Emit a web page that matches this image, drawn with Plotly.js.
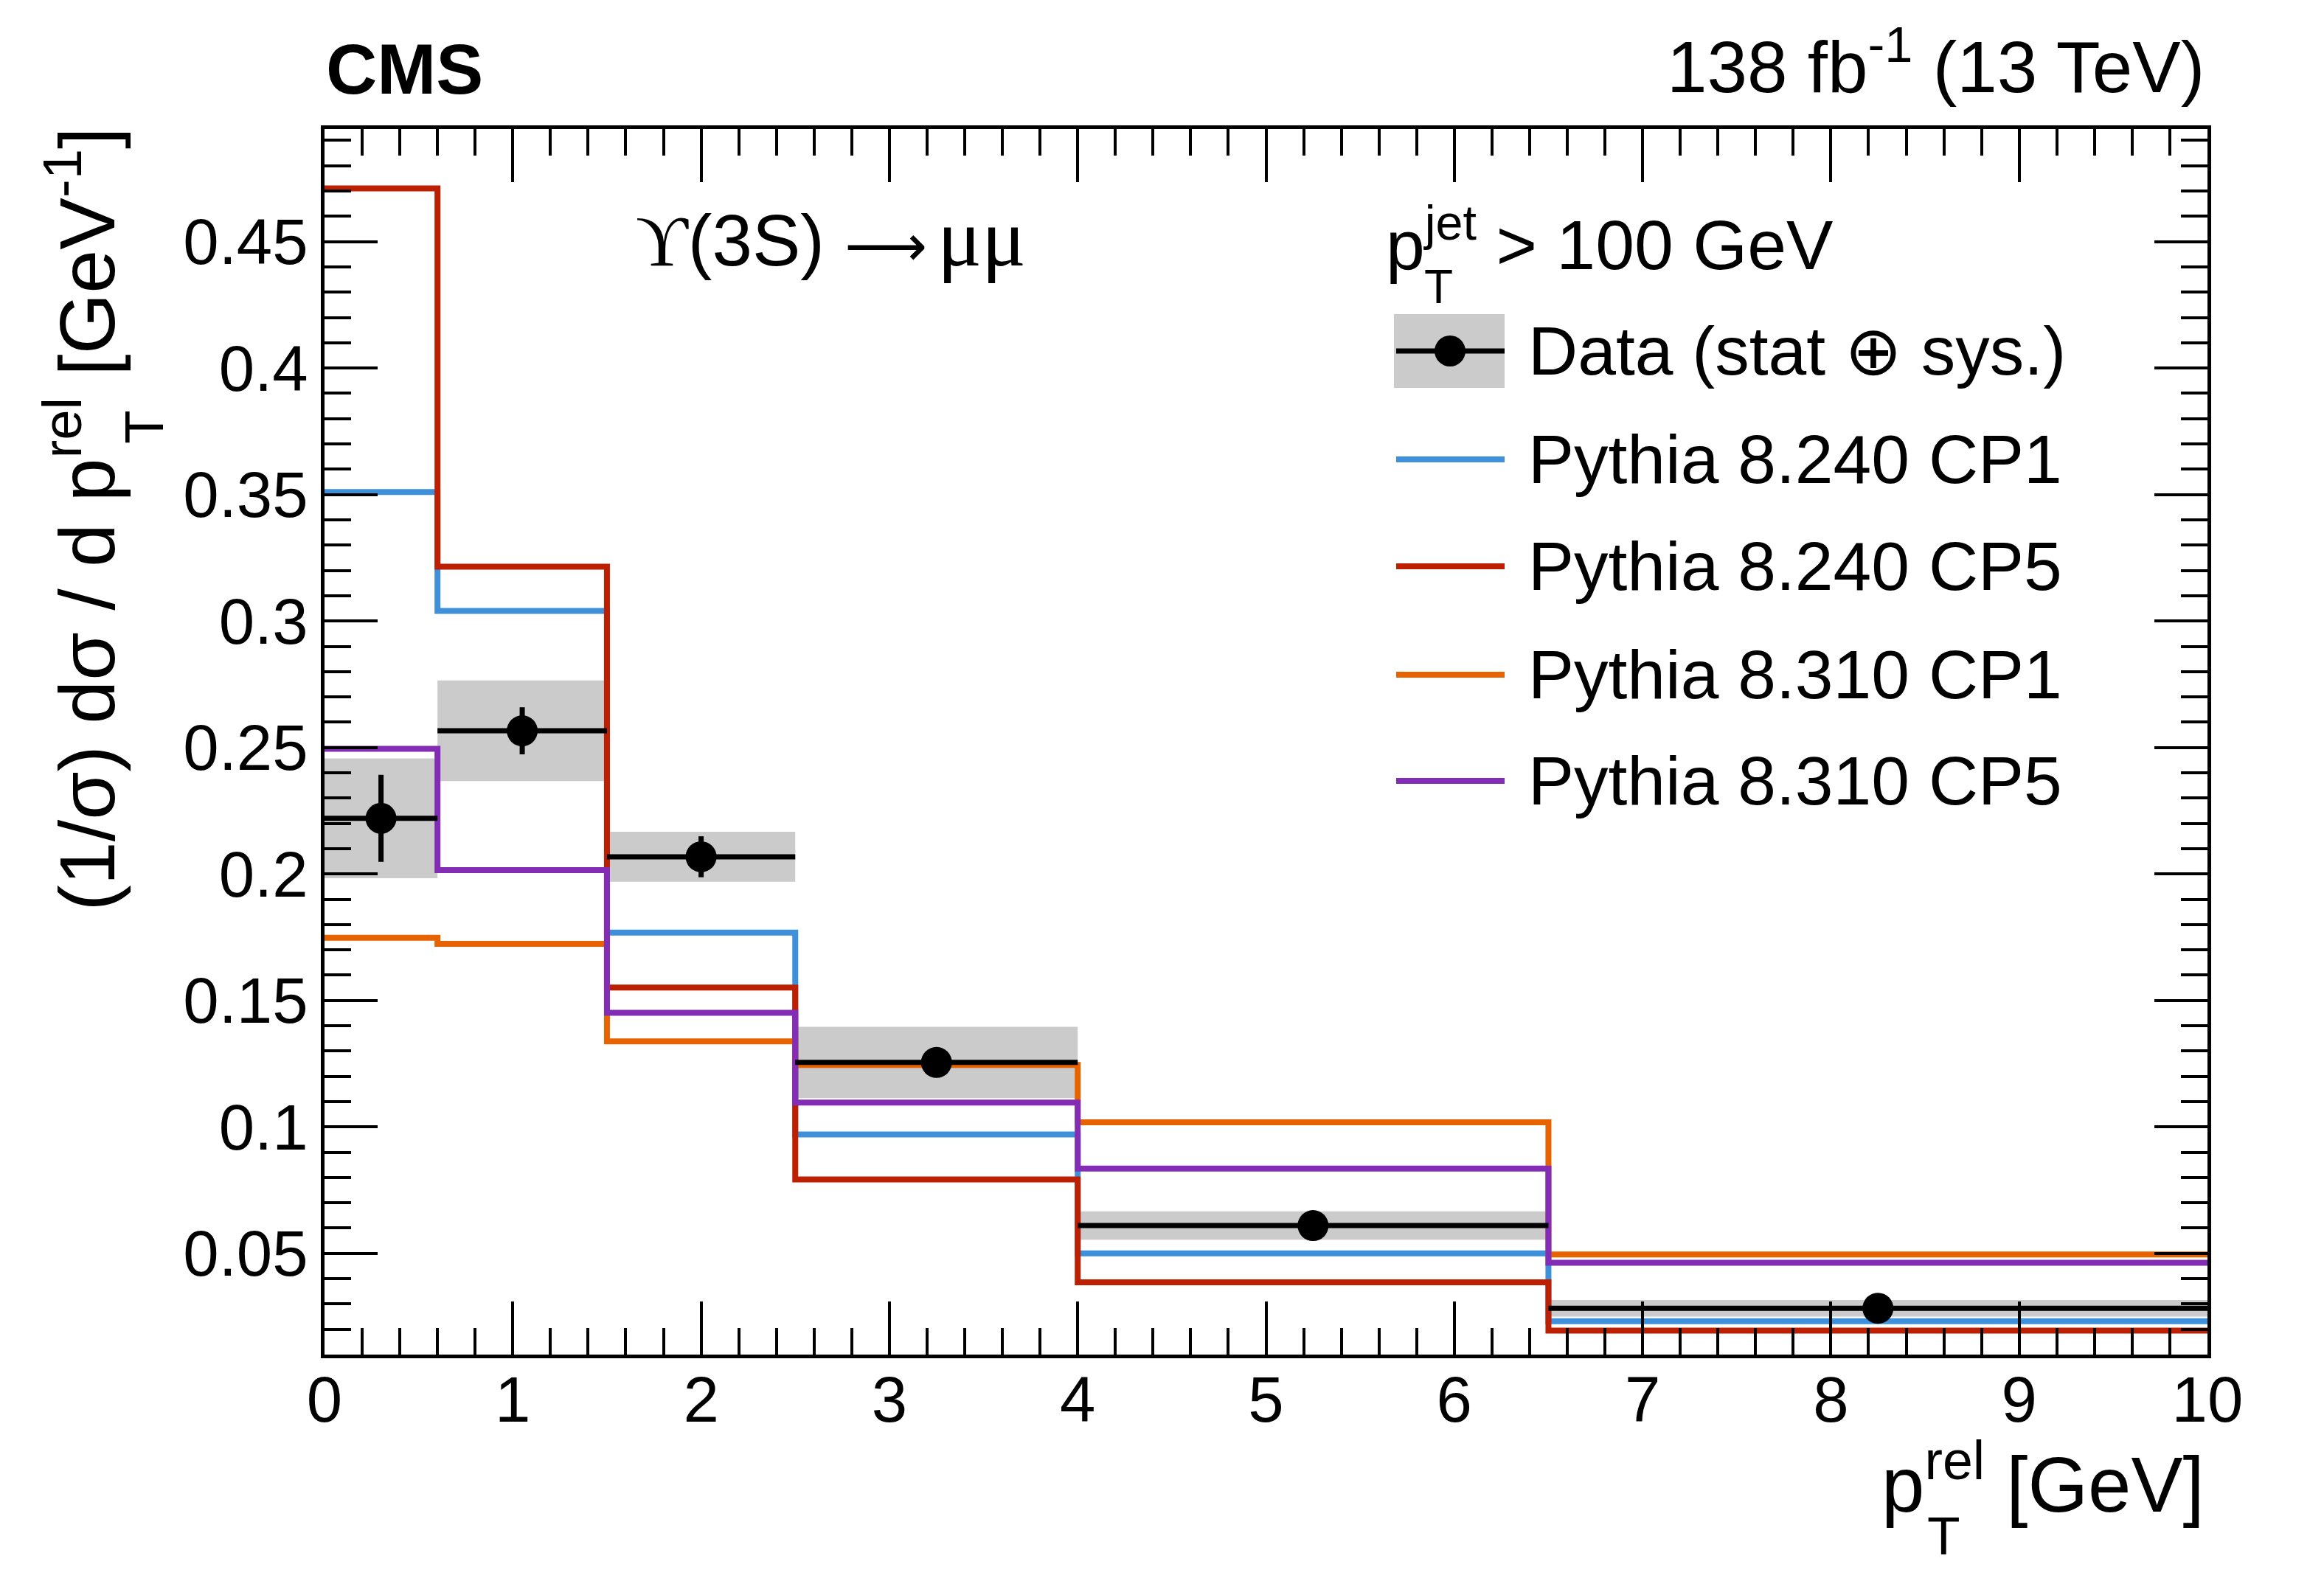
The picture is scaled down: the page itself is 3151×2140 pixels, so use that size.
<!DOCTYPE html>
<html>
<head>
<meta charset="utf-8">
<script src="https://cdn.plot.ly/plotly-3.0.1.min.js"></script>
<style>
	html, body { margin: 0; padding: 0; background: #fff; }
	#chart { width: 3151px; height: 2140px; }
</style>
</head>
<body>
<div id="chart"></div>
<script>
var binEdges = [0, 0.6, 1.5, 2.5, 4, 6.5, 10];

var dataVals  = [0.2220, 0.2566, 0.2068, 0.1255, 0.0610, 0.0283];
var statErr   = [0.0172, 0.0093, 0.0081, 0.0040, 0.0020, 0.0012];
var totalErr  = [0.0237, 0.0199, 0.0099, 0.0141, 0.0056, 0.0033];

var p8240cp1 = [0.3510, 0.3040, 0.1768, 0.0970, 0.0500, 0.0232];
var p8240cp5 = [0.4710, 0.3215, 0.1551, 0.0792, 0.0386, 0.0195];
var p8310cp1 = [0.1748, 0.1724, 0.1338, 0.1245, 0.1018, 0.0496];
var p8310cp5 = [0.2495, 0.2015, 0.1451, 0.1096, 0.0835, 0.0463];

var mcNames  = ['Pythia 8.240 CP1', 'Pythia 8.240 CP5', 'Pythia 8.310 CP1', 'Pythia 8.310 CP5'];
var mcColors = ['#3f90da', '#bd1f01', '#e76300', '#832db6'];

var yTickVals   = [0.05, 0.1, 0.15, 0.2, 0.25, 0.3, 0.35, 0.4, 0.45];
var yTickLabels = ['0.05', '0.1', '0.15', '0.2', '0.25', '0.3', '0.35', '0.4', '0.45'];

var FONT = 'Liberation Sans, Arial, Helvetica, sans-serif';
var SERIF = 'Liberation Serif, Times New Roman, serif';

// plot area in page pixels, used for the hand-made legend and labels
var W = 3151, H = 2140;
var L = 440, R = 2993, T = 175, B = 1837;
function px(x) { return (x - L) / (R - L); }
function py(y) { return (B - y) / (B - T); }

var centers = [], halfW = [], widths = [], boxBase = [], boxH = [];
for (var i = 0; i < dataVals.length; i++) {
	centers.push((binEdges[i] + binEdges[i + 1]) / 2);
	widths.push(binEdges[i + 1] - binEdges[i]);
	halfW.push((binEdges[i + 1] - binEdges[i]) / 2);
	boxBase.push(dataVals[i] - totalErr[i]);
	boxH.push(2 * totalErr[i]);
}

var traces = [];

traces.push({
	type: 'bar',
	x: centers,
	y: boxH,
	base: boxBase,
	width: widths,
	marker: { color: '#cbcbcb', line: { width: 0 } },
	showlegend: false,
	hoverinfo: 'skip'
});

[p8240cp1, p8240cp5, p8310cp1, p8310cp5].forEach(function(vals, k) {
	traces.push({
		type: 'scatter',
		mode: 'lines',
		x: binEdges,
		y: vals.concat([vals[vals.length - 1]]),
		line: { shape: 'hv', color: mcColors[k], width: 8 },
		name: mcNames[k],
		showlegend: false
	});
});

traces.push({
	type: 'scatter',
	mode: 'markers',
	x: centers,
	y: dataVals,
	marker: { color: 'black', size: 42 },
	error_x: { type: 'data', array: halfW, color: 'black', thickness: 7, width: 0 },
	error_y: { type: 'data', array: statErr, color: 'black', thickness: 7, width: 0 },
	name: 'Data',
	showlegend: false
});

var shapes = [], annotations = [];

// legend
var rowY = [476, 623, 768, 915, 1059];
shapes.push({ type: 'rect', xref: 'paper', yref: 'paper', x0: px(1890), x1: px(2040), y0: py(rowY[0] + 50), y1: py(rowY[0] - 50), fillcolor: '#cbcbcb', line: { width: 0 } });
shapes.push({ type: 'line', xref: 'paper', yref: 'paper', x0: px(1893), x1: px(2040), y0: py(rowY[0]), y1: py(rowY[0]), line: { color: 'black', width: 7 } });
shapes.push({ type: 'circle', xref: 'paper', yref: 'paper', x0: px(1945), x1: px(1987), y0: py(rowY[0] + 21), y1: py(rowY[0] - 21), fillcolor: 'black', line: { width: 0 } });
annotations.push({ xref: 'paper', yref: 'paper', x: px(2070), y: py(rowY[0]), xanchor: 'left', yanchor: 'middle', showarrow: false,
	text: 'Data (stat \u2295 sys.)', font: { family: FONT, size: 93, color: 'black' } });
for (var k = 0; k < mcNames.length; k++) {
	shapes.push({ type: 'line', xref: 'paper', yref: 'paper', x0: px(1893), x1: px(2040), y0: py(rowY[k + 1]), y1: py(rowY[k + 1]), line: { color: mcColors[k], width: 8 } });
	annotations.push({ xref: 'paper', yref: 'paper', x: px(2070), y: py(rowY[k + 1]), xanchor: 'left', yanchor: 'middle', showarrow: false,
		text: mcNames[k], font: { family: FONT, size: 93, color: 'black' } });
}

// header texts
annotations.push({ xref: 'paper', yref: 'paper', x: px(440), y: py(93), xanchor: 'left', yanchor: 'middle', showarrow: false,
	text: '<b>CMS</b>', font: { family: FONT, size: 96, color: 'black' } });
annotations.push({ xref: 'paper', yref: 'paper', x: px(2991), y: py(84), xanchor: 'right', yanchor: 'middle', showarrow: false,
	text: '138 fb<sup>-1</sup> (13 TeV)', font: { family: FONT, size: 98, color: 'black' } });

// in-plot labels
annotations.push({ xref: 'paper', yref: 'paper', x: px(860), y: py(322), xanchor: 'left', yanchor: 'middle', showarrow: false,
	text: '<span style="font-family:' + SERIF + '">\u03d2</span>(3S) <span style="font-family:DejaVu Sans;font-size:78px">\u27f6</span>' +
		'<span style="font-size:50px"> </span><span style="font-family:' + SERIF + ';font-size:112px">\u03bc\u03bc</span>',
	font: { family: FONT, size: 98, color: 'black' } });
annotations.push({ xref: 'paper', yref: 'paper', x: px(1877), y: py(325), xanchor: 'left', yanchor: 'middle', showarrow: false,
	text: 'p<sup>jet</sup> > 100 GeV', font: { family: FONT, size: 95, color: 'black' } });
annotations.push({ xref: 'paper', yref: 'paper', x: px(1951), y: py(389), xanchor: 'center', yanchor: 'middle', showarrow: false,
	text: 'T', font: { family: FONT, size: 64, color: 'black' } });

// axis titles, stacked sub/superscripts done by hand
annotations.push({ xref: 'paper', yref: 'paper', x: px(2991), y: py(2005), xanchor: 'right', yanchor: 'middle', showarrow: false,
	text: 'p<sup>rel</sup> [GeV]', font: { family: FONT, size: 105, color: 'black' } });
annotations.push({ xref: 'paper', yref: 'paper', x: px(2635), y: py(2082), xanchor: 'center', yanchor: 'middle', showarrow: false,
	text: 'T', font: { family: FONT, size: 73, color: 'black' } });
annotations.push({ xref: 'paper', yref: 'paper', x: px(110), y: py(171), xanchor: 'center', yanchor: 'top', textangle: -90, showarrow: false,
	text: '(1/\u03c3) d\u03c3 / d p<sup>rel</sup> [GeV<sup>-1</sup>]', font: { family: FONT, size: 106, color: 'black' } });
annotations.push({ xref: 'paper', yref: 'paper', x: px(195), y: py(579), xanchor: 'center', yanchor: 'middle', textangle: -90, showarrow: false,
	text: 'T', font: { family: FONT, size: 75, color: 'black' } });

var axisCommon = {
	showline: true,
	linecolor: 'black',
	linewidth: 5,
	mirror: 'allticks',
	ticks: 'inside',
	tickcolor: 'black',
	tickwidth: 4,
	ticklen: 72,
	showgrid: false,
	zeroline: false,
	tickfont: { family: FONT, size: 87, color: 'black' }
};

var layout = {
	width: W,
	height: H,
	margin: { l: L, r: W - R, t: T, b: H - B, pad: 0 },
	paper_bgcolor: 'white',
	plot_bgcolor: 'white',
	barmode: 'overlay',
	showlegend: false,
	xaxis: Object.assign({}, axisCommon, {
		range: [0, 10],
		tickmode: 'linear',
		tick0: 0,
		dtick: 1,
		ticklabelstandoff: -18,
		minor: { ticks: 'inside', tick0: 0, dtick: 0.2, ticklen: 36, tickwidth: 4, tickcolor: 'black' }
	}),
	yaxis: Object.assign({}, axisCommon, {
		range: [0.01, 0.4945],
		tickmode: 'array',
		tickvals: yTickVals,
		ticktext: yTickLabels,
		minor: { ticks: 'inside', tick0: 0, dtick: 0.01, ticklen: 36, tickwidth: 4, tickcolor: 'black' }
	}),
	shapes: shapes,
	annotations: annotations
};

Plotly.newPlot('chart', traces, layout, { displayModeBar: false, staticPlot: true });
</script>
</body>
</html>
